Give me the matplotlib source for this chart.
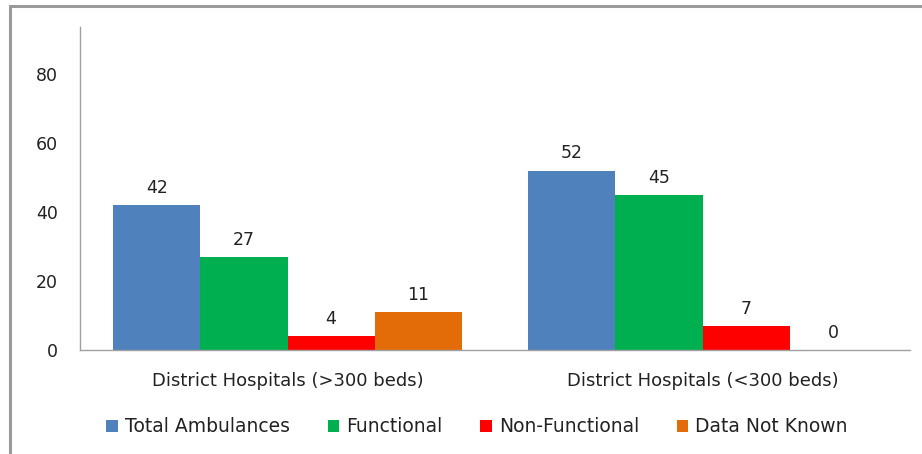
import matplotlib
matplotlib.use("Agg")
import matplotlib.pyplot as plt
import numpy as np
from matplotlib.patches import Rectangle

categories = ["District Hospitals (>300 beds)", "District Hospitals (<300 beds)"]
series_names = ["Total Ambulances", "Functional", "Non-Functional", "Data Not Known"]
total = [42, 52]
functional = [27, 45]
non_functional = [4, 7]
not_known = [11, 0]
yticks = [0, 20, 40, 60, 80]

colors = ["#4F81BD", "#00B050", "#FF0000", "#E36C09"]
values = [total, functional, non_functional, not_known]

fig = plt.figure(figsize=(9.22, 4.54), dpi=100)
W, H = 922, 454
# outer frame
fig.patches.append(Rectangle((10 / W, -0.1), 1.2, 1 - 6.5 / H + 0.1, transform=fig.transFigure,
                             fill=False, edgecolor="#9a9a9a", linewidth=2.2, zorder=0))

ax = fig.add_axes([80 / W, 1 - 350 / H, 830 / W, 323 / H])
x = np.arange(len(categories))
w = 0.21
fs = 12.5
for i, (name, vals, c) in enumerate(zip(series_names, values, colors)):
    pos = x + (i - 1.5) * w
    ax.bar(pos, vals, width=w, color=c, label=name, zorder=2)
    for p, v in zip(pos, vals):
        ax.annotate(str(v), (p, v), xytext=(0, 5.8), textcoords="offset points",
                    ha="center", va="bottom", fontsize=fs, color="#222222")

ax.set_xlim(-0.5, 1.5)
ax.set_ylim(0, 93.6)
ax.set_yticks(yticks)
ax.set_xticks(x)
ax.set_xticklabels(categories)
ax.tick_params(axis="y", length=0, pad=16, labelsize=fs, colors="#222222")
ax.tick_params(axis="x", length=0, pad=16, labelsize=13, colors="#222222")
for s in ["top", "right"]:
    ax.spines[s].set_visible(False)
for s in ["left", "bottom"]:
    ax.spines[s].set_color("#a0a0a0")
    ax.spines[s].set_linewidth(1)

handles, labels = ax.get_legend_handles_labels()
fig.legend(handles, labels, loc="center", bbox_to_anchor=(477 / W, 1 - 427 / H), ncol=4,
           frameon=False, fontsize=13.5, handlelength=0.62, handleheight=0.62,
           handletextpad=0.38, columnspacing=2.0, labelcolor="#222222")

fig.savefig("out.png", dpi=100)
